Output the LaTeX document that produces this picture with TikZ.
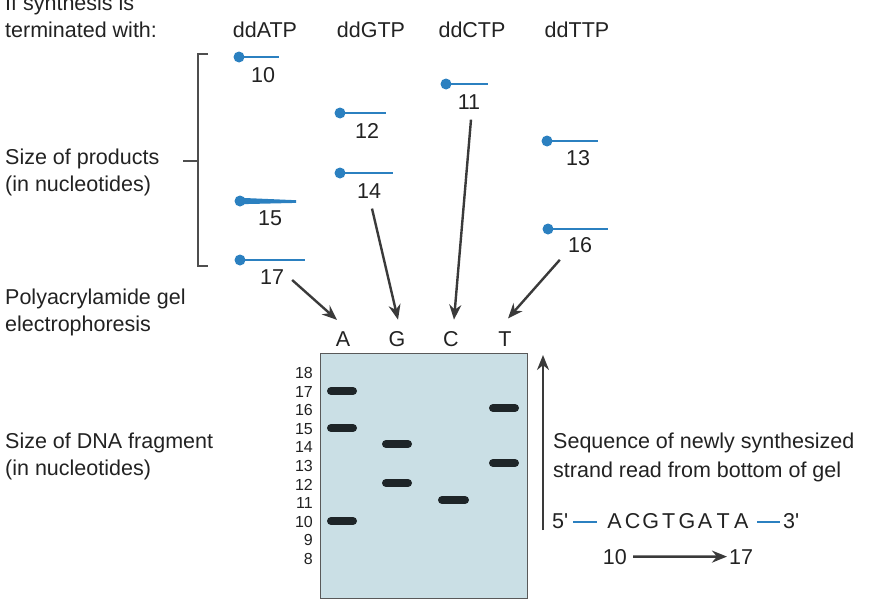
\documentclass[tikz,border=0pt]{standalone}
\usepackage{fontspec}
\setmainfont{Liberation Sans}
\usetikzlibrary{arrows.meta,calc}
\definecolor{dnablue}{HTML}{2B80C0}
\definecolor{gelfill}{HTML}{CADFE5}
\definecolor{ink}{HTML}{222222}
\definecolor{arrowgray}{HTML}{3A3A3A}
\definecolor{band}{HTML}{1E2528}
\tikzset{
  lbl/.style={font=\fontsize{21.5}{24}\selectfont, text=ink, inner sep=0pt, anchor=base west, align=left},
  num/.style={font=\fontsize{21.5}{24}\selectfont, text=ink, inner sep=0pt},
  scalenum/.style={font=\fontsize{16}{18}\selectfont, text=ink, inner sep=0pt, anchor=east},
  strand/.style={draw=dnablue, line width=2.8pt},
  dot/.style={circle, fill=dnablue, inner sep=0pt, minimum size=11pt},
  arr/.style={draw=arrowgray, line width=2.4pt, -{Stealth[length=15pt,width=12pt]}},
  bandst/.style={draw=band, line width=8pt, line cap=round},
  bluebar/.style={draw=dnablue, line width=2.2pt},
}
\begin{document}
\begin{tikzpicture}[x=1pt,y=-1pt]
\useasboundingbox (0,0) rectangle (875,605);
% left labels
\node[lbl] (q1) at (5,10) {If synthesis is};
\node[lbl] (q2) at (5,37) {terminated with:};
\node[lbl] (sp1) at (5,164) {Size of products};
\node[lbl] (sp2) at (5,191) {(in nucleotides)};
\node[lbl] (pg1) at (5,304) {Polyacrylamide gel};
\node[lbl] (pg2) at (5,331) {electrophoresis};
\node[lbl] (sd1) at (5,448) {Size of DNA fragment};
\node[lbl] (sd2) at (5,475) {(in nucleotides)};
% column headers
\node[num, anchor=base] (hA) at (265,37) {ddATP};
\node[num, anchor=base] (hG) at (371,37) {ddGTP};
\node[num, anchor=base] (hC) at (472,37) {ddCTP};
\node[num, anchor=base] (hT) at (577,37) {ddTTP};
% bracket
\coordinate (bt) at (198,54);
\coordinate (bb) at (198,266);
\coordinate (bm) at (198,161);
\draw[ink!80, line width=1.3pt] (208,54) -- (bt) -- (bb) -- (208,266);
\draw[ink!80, line width=1.3pt] (bm) -- (183,161);
% products
\foreach \nm/\x/\y/\len/\lx/\ly in {10/239/57/40/263/75, 12/340/113/46/367/131, 11/446/84/42/469/102, 13/547/141/51/578/158, 14/340/173/53/369/191, 16/548/229/60/580/245, 17/240/260/65/272/277}{
  \node[dot] (d\nm) at (\x,\y) {};
  \coordinate (e\nm) at (\x+\len,\y);
  \draw[strand] (d\nm.center) -- (e\nm);
  \node[num] (n\nm) at (\lx,\ly) {\nm};
}
% product 15 (tapered)
\node[dot] (d15) at (240,201) {};
\coordinate (e15) at (296,201.5);
\fill[dnablue] (240,197.8) -- ($(e15)+(0,-1.3)$) -- ($(e15)+(0,1.4)$) -- (240,204.2) -- cycle;
\node[num] (n15) at (270,218) {15};
% lane letters
\node[num] (lA) at (343,339.5) {A};
\node[num] (lG) at (397,339.5) {G};
\node[num] (lC) at (451,339.5) {C};
\node[num] (lT) at (505,339.5) {T};
% arrows to lanes
\draw[arr] ($(n17.east)+(8,3)$) -- ($(lA.north)+(-6,-12)$);
\draw[arr] ($(n14.south)+(3,10)$) -- ($(lG.north)+(1,-12)$);
\draw[arr] ($(n11.south)+(2,10)$) -- ($(lC.north)+(3,-12)$);
\draw[arr] ($(n16.south west)+(-8,7)$) -- ($(lT.north)+(3,-13.5)$);
% gel
\node[draw=ink!75, line width=1.3pt, fill=gelfill, minimum width=207pt, minimum height=245pt, anchor=north west, inner sep=0pt] (gel) at (320,353) {};
% scale
\foreach \v [count=\i from 0] in {18,17,16,15,14,13,12,11,10,9,8}{
  \node[scalenum] (s\v) at (313,373+18.6*\i) {\v};
}
% bands
\draw[bandst] (331,391) -- (353,391);
\draw[bandst] (331,428) -- (353,428);
\draw[bandst] (331,521) -- (353,521);
\draw[bandst] (386,444) -- (408,444);
\draw[bandst] (386,483) -- (408,483);
\draw[bandst] (442,500) -- (465,500);
\draw[bandst] (493,408) -- (515,408);
\draw[bandst] (493,463) -- (515,463);
% up arrow
\coordinate (ua0) at (543,530);
\coordinate (ua1) at (543,355);
\draw[arr] (ua0) -- (ua1);
% sequence text
\node[lbl] (sq1) at (553,448) {Sequence of newly synthesized};
\node[lbl] (sq2) at (553,477) {strand read from bottom of gel};
\node[lbl] (p5) at (552,528) {5\textquotesingle};
\coordinate (b5a) at (573,522);
\coordinate (b5b) at (597,522);
\draw[bluebar] (b5a) -- (b5b);
\foreach \ch [count=\i from 0] in {A,C,G,T,G,A,T,A}{
  \node[num, anchor=base] (c\i) at (614.5+18.1*\i,528) {\ch};
}
\coordinate (b3a) at (757,522);
\coordinate (b3b) at (780,522);
\draw[bluebar] (b3a) -- (b3b);
\node[lbl] (p3) at (783,528) {3\textquotesingle};
\node[num, anchor=base east] (r10) at (627,564) {10};
\node[num, anchor=base west] (r17) at (729,564) {17};
\draw[arr] ([xshift=6pt]r10.east) -- ([xshift=-2pt]r17.west);
\end{tikzpicture}
\end{document}
